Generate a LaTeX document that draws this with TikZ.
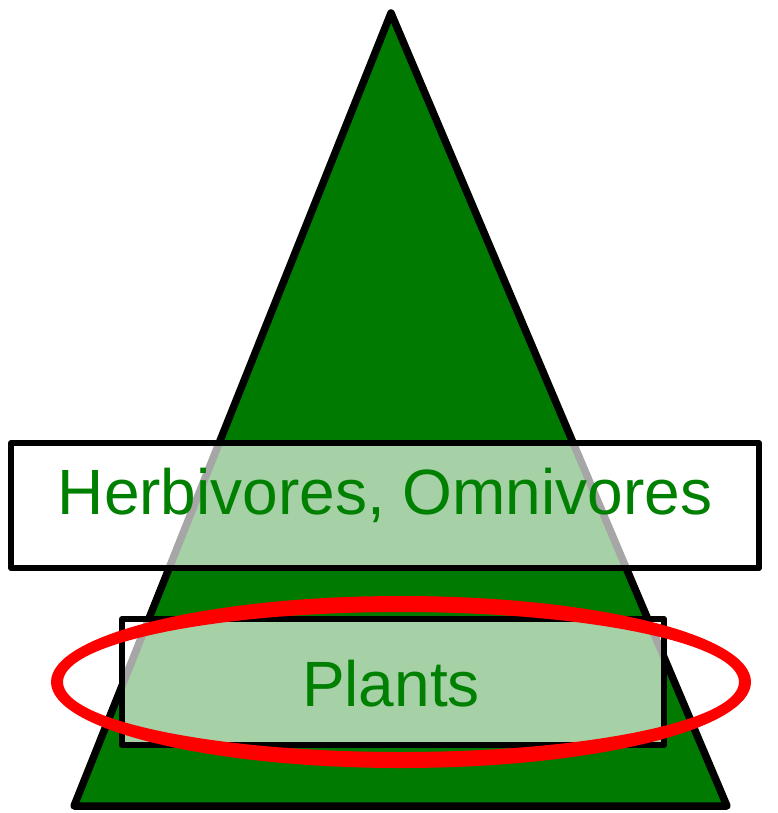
\documentclass[tikz,border=0pt]{standalone}
\usepackage{fontspec}
\setmainfont{Liberation Sans}
\definecolor{trigreen}{RGB}{0,122,0}
\definecolor{txtgreen}{RGB}{0,128,0}
\definecolor{ringred}{RGB}{255,0,0}
\tikzset{
  level/.style={draw=black, line width=6pt, fill=white, fill opacity=0.65, draw opacity=1, line join=round, inner sep=0pt, outer sep=0pt},
  label/.style={text=txtgreen, font=\fontsize{64pt}{64pt}\selectfont, anchor=base, inner sep=0pt, text opacity=1}
}
\begin{document}
\begin{tikzpicture}[x=1pt,y=-1pt]
\useasboundingbox (0,0) rectangle (778,813);
\coordinate (apex) at (391,13);
\coordinate (bl) at (74,806);
\coordinate (br) at (727,806);
\draw[line width=7.5pt, line join=round, fill=trigreen] (apex) -- (bl) -- (br) -- cycle;
\node[level, minimum width=748pt, minimum height=125pt] (herbbox) at (385,505.5) {};
\node[label] (herbtext) at (385,514) {Herbivores, Omnivores};
\node[level, minimum width=542pt, minimum height=126pt] (plantbox) at (393,682) {};
\node[label] (planttext) at (391,706) {Plants};
\coordinate (ringc) at (401,682);
\fill[ringred, even odd rule] (ringc) ellipse [x radius=350, y radius=86]
  (ringc) ellipse [x radius=338, y radius=70];
\end{tikzpicture}
\end{document}
